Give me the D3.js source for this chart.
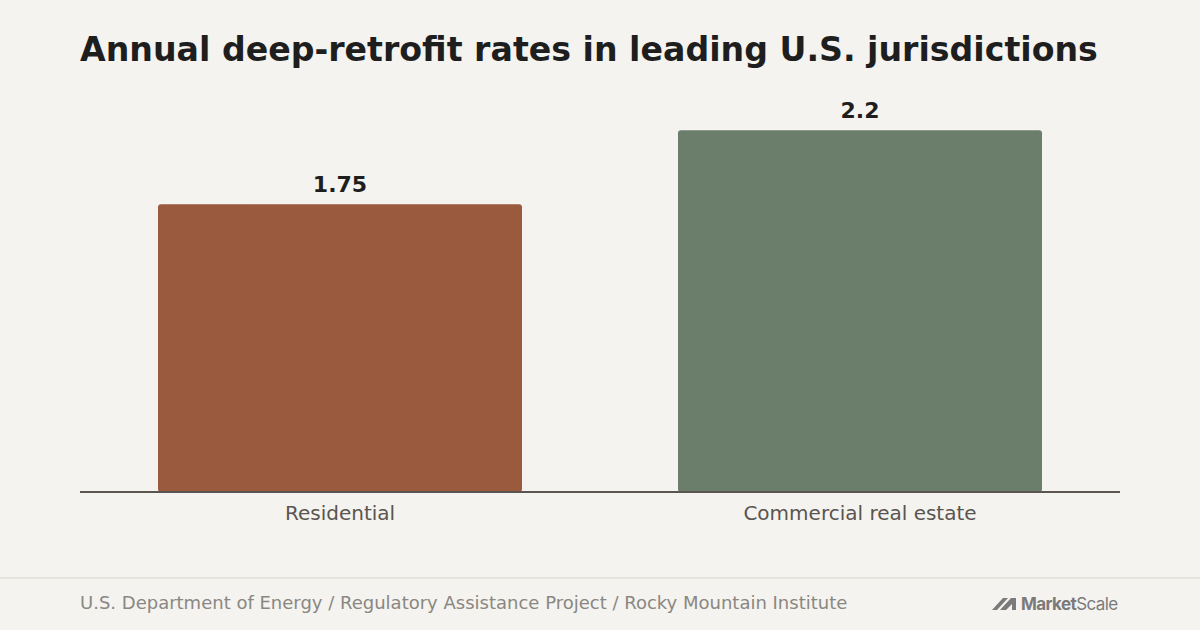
<!DOCTYPE html>
<html><head><meta charset="utf-8">
<script src="https://cdn.jsdelivr.net/npm/d3@7"></script>
<style>html,body{margin:0;padding:0;background:#f4f3ef;}svg{display:block;}</style>
</head><body>
<svg id="c" width="1200" height="630"></svg>
<script>
const categories = ["Residential", "Commercial real estate"];
const values = [1.75, 2.2];
const valueLabels = ["1.75", "2.2"];
const colors = ["#9a5a3d", "#6b7d6b"];
const title = "Annual deep-retrofit rates in leading U.S. jurisdictions";
const source = "U.S. Department of Energy / Regulatory Assistance Project / Rocky Mountain Institute";

const svg = d3.select("#c");
const W = 1200, H = 630;
svg.append("rect").attr("width", W).attr("height", H).attr("fill", "#f4f3ef");
const font = "DejaVu Sans, sans-serif";

svg.append("text").attr("x", 80).attr("y", 61).attr("font-family", font)
  .attr("font-weight", "bold").attr("font-size", 33.2).attr("fill", "#1e1e1e").text(title);

const x = d3.scaleBand().domain(categories).range([80, 1120]).paddingInner(0.3).paddingOuter(0.15);
const y = d3.scaleLinear().domain([0, 2.42]).range([492, 94]);

const g = svg.append("g");
categories.forEach((c, i) => {
  const x0 = x(c), w = x.bandwidth(), y0 = y(values[i]), h = y(0) - y(values[i]);
  g.append("rect").attr("x", x0).attr("y", y0).attr("width", w).attr("height", h)
    .attr("rx", 3).attr("ry", 3).attr("fill", colors[i]);
  g.append("text").attr("x", x0 + w / 2).attr("y", y0 - 12).attr("text-anchor", "middle")
    .attr("font-family", font).attr("font-weight", "bold").attr("font-size", 22)
    .attr("fill", "#1e1e1e").text(valueLabels[i]);
});

const axis = svg.append("g").attr("transform", "translate(0,492)")
  .call(d3.axisBottom(x).tickSize(0).tickPadding(14));
axis.select(".domain").attr("stroke", "#5a5550").attr("stroke-width", 2).attr("d", "M80,0H1120");
axis.selectAll("text").attr("font-family", font).attr("font-size", 20).attr("fill", "#5a5550");

svg.append("line").attr("x1", 0).attr("x2", W).attr("y1", 578).attr("y2", 578)
  .attr("stroke", "#e2dfda").attr("stroke-width", 1.5);
svg.append("text").attr("x", 80).attr("y", 609).attr("font-family", font)
  .attr("font-size", 18).attr("fill", "#8a8782").text(source);

// logo
const logo = svg.append("g").attr("fill", "#7a7a7a");
logo.append("path").attr("d", "M992,610 L1003,598 L1008,598 L997,610 Z");
logo.append("path").attr("d", "M1000,610 L1011,598 L1016,598 L1016,610 L1012,610 L1012,604 L1006,610 Z");
const lt = logo.append("text").attr("x", 1021).attr("y", 610).attr("font-family", "Inter, sans-serif")
  .attr("font-size", 17).attr("letter-spacing", -0.6);
lt.append("tspan").attr("font-weight", "bold").text("Market");
lt.append("tspan").attr("font-weight", "normal").text("Scale");
</script>
</body></html>
